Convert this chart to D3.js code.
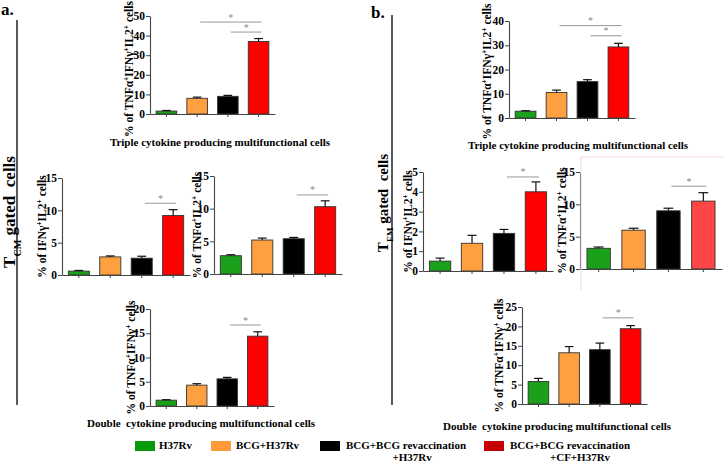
<!DOCTYPE html>
<html><head><meta charset="utf-8">
<script src="https://cdn.jsdelivr.net/npm/d3@7"></script>
<style>
body{margin:0;background:#fff;}
svg{display:block;font-family:"Liberation Serif","Times New Roman",serif;font-weight:bold;}
</style></head><body>
<svg id="c" width="724" height="463"></svg>
<script>
// ---- data ----
const groups = ["H37Rv", "BCG+H37Rv", "BCG+BCG revaccination|+H37Rv", "BCG+BCG revaccination|+CF+H37Rv"];
const aTripleMean = [1.5, 8.0, 9.0, 37.0];
const aTripleErr  = [0.3, 0.6, 0.5, 1.5];
const aIfnIl2Mean = [0.6, 2.8, 2.6, 9.2];
const aIfnIl2Err  = [0.1, 0.15, 0.3, 0.9];
const aTnfIl2Mean = [2.8, 5.2, 5.4, 10.3];
const aTnfIl2Err  = [0.15, 0.3, 0.2, 0.9];
const aTnfIfnMean = [1.2, 4.3, 5.6, 14.4];
const aTnfIfnErr  = [0.1, 0.3, 0.3, 0.9];
const bTripleMean = [2.8, 10.5, 15.0, 29.3];
const bTripleErr  = [0.2, 1.0, 0.8, 1.5];
const bIfnIl2Mean = [0.5, 1.4, 1.9, 4.0];
const bIfnIl2Err  = [0.15, 0.4, 0.2, 0.5];
const bTnfIl2Mean = [3.2, 6.0, 9.0, 10.5];
const bTnfIl2Err  = [0.2, 0.3, 0.4, 1.3];
const bTnfIfnMean = [5.8, 13.2, 14.0, 19.4];
const bTnfIfnErr  = [0.8, 1.6, 1.7, 0.8];
const ticksTripleA = [0, 10, 20, 30, 40, 50];
const ticks15 = [0, 5, 10, 15];
const ticks20 = [0, 5, 10, 15, 20];
const ticksTripleB = [0, 10, 20, 30, 40];
const ticks5 = [0, 1, 2, 3, 4, 5];
const ticks25 = [0, 5, 10, 15, 20, 25];
// y labels: [text, isSuperscript]
const lblTriple = [["% of TNFα",0],["+",1],["IFNγ",0],["+",1],["IL2",0],["+",1],[" cells",0]];
const lblIfnIl2 = [["% of IFNγ",0],["+",1],["IL2",0],["+",1],[" cells",0]];
const lblTnfIl2 = [["% of TNFα",0],["+",1],["IL2",0],["+",1],[" cells",0]];
const lblTnfIfn = [["% of TNFα",0],["+",1],["IFNγ",0],["+",1],[" cells",0]];
// significance annotations: [fromGroup, toGroup, yValue]
const sigATriple = [[1,3,46.9],[2,3,41.8]];
const sigAIfnIl2 = [[2,3,11.1]];
const sigATnfIl2 = [[2,3,12.1]];
const sigATnfIfn = [[2,3,16.7]];
const sigBTriple = [[1,3,38.1],[2,3,33.9]];
const sigBIfnIl2 = [[2,3,4.75]];
const sigBTnfIl2 = [[2,3,12.8]];
const sigBTnfIfn = [[2,3,22.2]];

// ---- styles ----
const barColors = ["#1aa01a", "#ffa040", "#000000", "#ff0000"];
const legendColors = ["#079a07", "#ff9a3a", "#000000", "#c40000"];

const svg = d3.select("#c");

function panel(p) {
  const g = svg.append("g");
  const y = d3.scaleLinear().domain([0, d3.max(p.ticks)]).range([p.y0, p.yTop]);
  const x = d3.scaleBand().domain(d3.range(4)).range([p.x0, p.x1]).paddingInner(0.33).paddingOuter(0.2);
  const colors = p.colors || barColors;
  // bars
  g.selectAll("rect.bar").data(p.means).join("rect")
    .attr("x", (d,i)=>x(i)).attr("width", x.bandwidth())
    .attr("y", d=>y(d)).attr("height", d=>p.y0 - y(d))
    .attr("fill", (d,i)=>colors[i]).attr("stroke", "#333").attr("stroke-width", 0.9);
  // error bars
  const cap = x.bandwidth()*0.42;
  p.means.forEach((m,i)=>{
    const cx = x(i)+x.bandwidth()/2;
    g.append("line").attr("x1",cx).attr("x2",cx).attr("y1",y(m)).attr("y2",y(m+p.errs[i])).attr("stroke","#111").attr("stroke-width",1.2);
    g.append("line").attr("x1",cx-cap/2).attr("x2",cx+cap/2).attr("y1",y(m+p.errs[i])).attr("y2",y(m+p.errs[i])).attr("stroke","#111").attr("stroke-width",1.2);
  });
  // axes
  const ya = g.append("g").attr("transform",`translate(${p.x0},0)`)
    .call(d3.axisLeft(y).tickValues(p.ticks).tickSize(4).tickSizeOuter(0).tickFormat(d3.format("d")));
  ya.selectAll("text").attr("font-family",'"Liberation Serif",serif').attr("font-weight","bold").attr("font-size",11.5).attr("fill","#000").attr("dx",2);
  const xa = g.append("g").attr("transform",`translate(0,${p.y0})`)
    .call(d3.axisBottom(x).tickSize(3).tickSizeOuter(0).tickFormat(""));
  [ya, xa].forEach(a=>{ a.select(".domain").attr("stroke","#444").attr("stroke-width",1.1); a.selectAll(".tick line").attr("stroke","#444"); });
  // y label
  const t = g.append("text").attr("transform",`translate(${p.labelX},${(p.y0+p.yTop)/2 + (p.labelDy||0)}) rotate(-90)`)
    .attr("text-anchor","middle").attr("font-size",11.5).attr("fill","#000");
  p.label.forEach(([s,sup])=>{
    const ts = t.append("tspan").text(s);
    if (sup) ts.attr("font-size",7.5).attr("baseline-shift","super");
  });
  // significance
  p.sig.forEach(([a,b,v])=>{
    const xa1 = x(a)+x.bandwidth()/2+3, xb1 = x(b)+x.bandwidth()/2+3;
    g.append("line").attr("x1",xa1).attr("x2",xb1).attr("y1",y(v)).attr("y2",y(v)).attr("stroke","#999").attr("stroke-width",1);
    g.append("text").attr("x",(xa1+xb1)/2).attr("y",y(v)-1.5).attr("text-anchor","middle")
      .attr("font-size",10).attr("font-weight","normal").attr("fill","#888").text("*");
  });
}

panel({x0:150,x1:275,yTop:16,y0:114,ticks:ticksTripleA,means:aTripleMean,errs:aTripleErr,label:lblTriple,labelX:133,labelDy:4,sig:sigATriple});
panel({x0:62,x1:190,yTop:178,y0:275,ticks:ticks15,means:aIfnIl2Mean,errs:aIfnIl2Err,label:lblIfnIl2,labelX:46,sig:sigAIfnIl2});
panel({x0:214,x1:342,yTop:176,y0:274,ticks:ticks15,means:aTnfIl2Mean,errs:aTnfIl2Err,label:lblTnfIl2,labelX:201,sig:sigATnfIl2});
panel({x0:150,x1:274,yTop:309,y0:406,ticks:ticks20,means:aTnfIfnMean,errs:aTnfIfnErr,label:lblTnfIfn,labelX:135,sig:sigATnfIfn});
panel({x0:509,x1:635,yTop:21,y0:118,ticks:ticksTripleB,means:bTripleMean,errs:bTripleErr,label:lblTriple,labelX:491,labelDy:2,sig:sigBTriple});
panel({x0:423,x1:553,yTop:172,y0:271,ticks:ticks5,means:bIfnIl2Mean,errs:bIfnIl2Err,label:lblIfnIl2,labelX:412,sig:sigBIfnIl2});
panel({x0:580,x1:722,yTop:172,y0:269,ticks:ticks15,means:bTnfIl2Mean,errs:bTnfIl2Err,label:lblTnfIl2,labelX:566,sig:sigBTnfIl2,
       colors:["#1aa01a","#ffa040","#000000","#ff4646"]});
panel({x0:522,x1:647,yTop:307,y0:404,ticks:ticks25,means:bTnfIfnMean,errs:bTnfIfnErr,label:lblTnfIfn,labelX:503,sig:sigBTnfIfn});

// faint pink frame around b mid-right panel
svg.append("path").attr("d","M581,290 V157 H724").attr("fill","none").attr("stroke","#f6d6dc").attr("stroke-width",1);

// titles
function title(x, yy, s) {
  svg.append("text").attr("x",x).attr("y",yy).attr("text-anchor","middle").attr("font-size",11)
    .attr("xml:space","preserve").style("white-space","pre").text(s);
}
title(220,146,"Triple cytokine producing multifunctional cells");
title(578,149,"Triple cytokine producing multifunctional cells");
title(201,427,"Double  cytokine producing multifunctional cells");
title(557,430,"Double  cytokine producing multifunctional cells");

// panel letters & side lines
svg.append("text").attr("x",1).attr("y",15).attr("font-size",17).text("a.");
svg.append("text").attr("x",371).attr("y",18).attr("font-size",17).text("b.");
svg.append("line").attr("x1",17).attr("x2",17).attr("y1",20).attr("y2",405).attr("stroke","#000").attr("stroke-width",1.3);
svg.append("line").attr("x1",392).attr("x2",392).attr("y1",15).attr("y2",405).attr("stroke","#000").attr("stroke-width",1.3);

function sideLabel(x, yy, size, sub) {
  const t = svg.append("text").attr("transform",`translate(${x},${yy}) rotate(-90)`).attr("text-anchor","middle")
    .attr("font-size",size).attr("xml:space","preserve").style("white-space","pre");
  t.append("tspan").text("T");
  t.append("tspan").attr("font-size",size*0.6).attr("baseline-shift","sub").text(sub);
  t.append("tspan").text(" gated  cells");
}
sideLabel(15, 212, 17, "CM");
sideLabel(388, 203, 15, "EM");

// legend
const legX = [135, 211, 320, 484];
const legTextX = [159, 236, 346, 510];
const leg = svg.append("g");
groups.forEach((gname,i)=>{
  leg.append("rect").attr("x",legX[i]).attr("y",441).attr("width",20).attr("height",10).attr("fill",legendColors[i]);
  const lines = gname.split("|");
  const t = leg.append("text").attr("font-size",11).attr("y",449);
  t.attr("x",legTextX[i]).text(lines[0]);
  if (lines.length > 1) {
    const w = t.node().getComputedTextLength();
    leg.append("text").attr("font-size",11).attr("y",461).attr("x",legTextX[i]+w/2+(i===3?10:6)).attr("text-anchor","middle").text(lines[1]);
  }
});
</script>
</body></html>
